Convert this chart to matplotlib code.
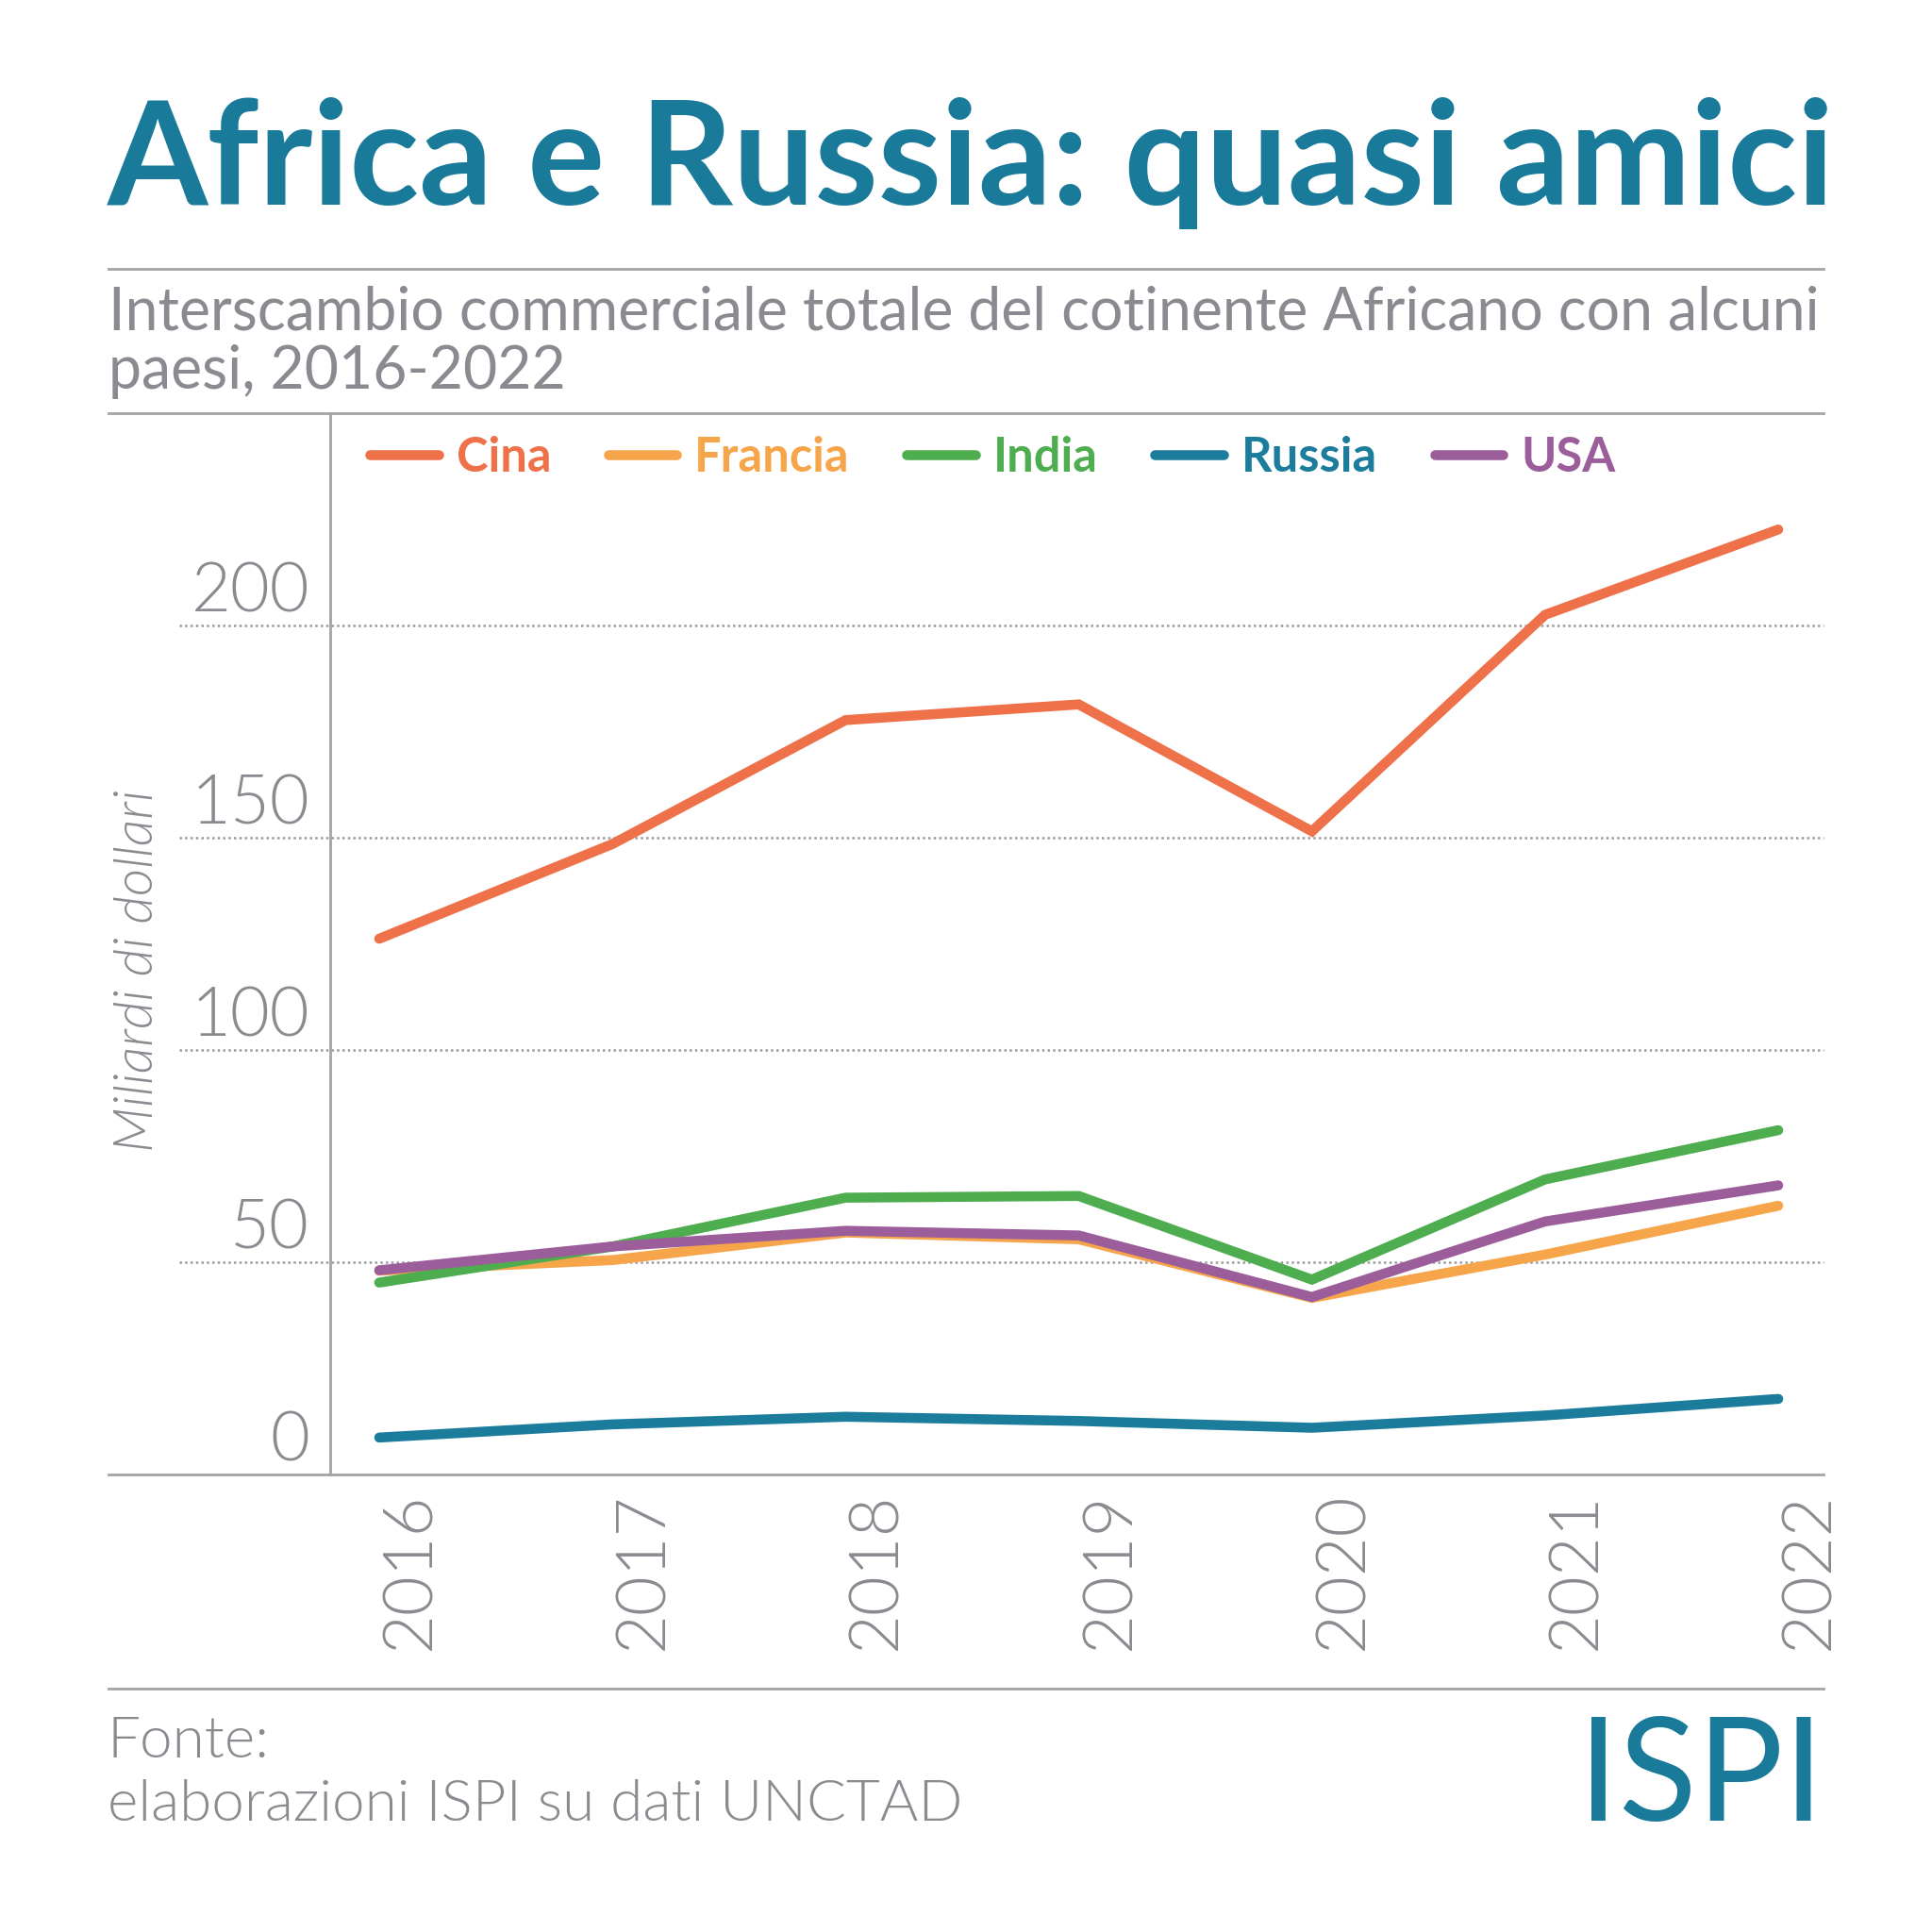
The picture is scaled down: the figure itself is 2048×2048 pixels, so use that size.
import matplotlib
matplotlib.use("Agg")
import matplotlib.pyplot as plt
from matplotlib.lines import Line2D
from matplotlib.transforms import blended_transform_factory, ScaledTranslation

# ---------------- data ----------------
years = [2016, 2017, 2018, 2019, 2020, 2021, 2022]
cina = [126.2, 148.5, 177.7, 181.4, 151.5, 202.5, 222.6]
francia = [48.0, 50.5, 57.0, 55.4, 41.6, 51.8, 63.3]
india = [45.2, 53.7, 65.2, 65.6, 45.9, 69.5, 81.1]
russia = [8.7, 11.8, 13.6, 12.6, 11.0, 13.9, 17.8]
usa = [48.1, 53.7, 57.4, 56.3, 41.8, 59.6, 68.1]
series_names = ["Cina", "Francia", "India", "Russia", "USA"]
yticks = [0, 50, 100, 150, 200]
ytick_labels = ["0", "50", "100", "150", "200"]

title = "Africa e Russia: quasi amici"
subtitle1 = "Interscambio commerciale totale del cotinente Africano con alcuni"
subtitle2 = "paesi, 2016-2022"
ylabel = "Miliardi di dollari"
source1 = "Fonte:"
source2 = "elaborazioni ISPI su dati UNCTAD"
logo = "ISPI"

# ---------------- style ----------------
colors = ["#EE7149", "#F6A54B", "#4DAD4F", "#1B7C9C", "#9B5E9B"]
teal = "#1A7A9A"
gray_txt = "#8A8A90"
rule_col = "#A4A4A8"
grid_col = "#9A9A9E"
FONT = "Lato"
LIGHT = 300

W = H = 2048
fig = plt.figure(figsize=(10.24, 10.24), dpi=200)
fig.patch.set_facecolor("white")


def fx(px):
    return px / W


def fy(py):
    return 1 - py / H


ax = fig.add_axes([fx(350), fy(1563), fx(1933) - fx(350), (1563 - 438) / H])
ax.patch.set_visible(False)
ax.set_xlim(2016 - 52 / 247.2, 2022 + 48 / 247.2)
ax.set_ylim(0, 250)

all_series = [cina, francia, india, russia, usa]
for name, vals, c in zip(series_names, all_series, colors):
    ax.plot(years, vals, color=c, lw=3.8, solid_capstyle="round",
            solid_joinstyle="miter", label=name, zorder=3)

# spines
for s in ["top", "right", "bottom"]:
    ax.spines[s].set_visible(False)
ax.spines["left"].set_color(rule_col)
ax.spines["left"].set_linewidth(1.0)

# gridlines extending left of the spine
bt = blended_transform_factory(fig.transFigure, ax.transData)
for v in yticks[1:]:
    fig.add_artist(Line2D([fx(190), fx(1933)], [v, v], transform=bt,
                          ls=(0, (1, 1.3)), lw=0.9, color=grid_col, zorder=-1))

# horizontal rules
for py in [285, 438, 1563, 1790]:
    fig.add_artist(Line2D([fx(115), fx(1933)], [fy(py), fy(py)],
                          transform=fig.transFigure, lw=1.0, color=rule_col,
                          zorder=1))

# y ticks
ax.set_yticks(yticks)
ax.set_yticklabels(ytick_labels, fontfamily=FONT, fontweight=LIGHT,
                   fontsize=26, color=gray_txt)
ax.tick_params(axis="y", length=0, pad=7.9)
for lab in ax.get_yticklabels():
    lab.set_va("bottom")
    lab.set_transform(lab.get_transform() +
                      ScaledTranslation(0, 0.5 / 72, fig.dpi_scale_trans))

# x ticks
ax.set_xticks(years)
ax.set_xticklabels([str(y) for y in years], fontfamily=FONT,
                   fontweight=LIGHT, fontsize=26, color=gray_txt,
                   rotation=90, ha="left", va="top")
ax.tick_params(axis="x", length=0, pad=6.5)

# y label
fig.text(fx(146), fy(1029), ylabel, rotation=90, ha="center", va="center",
         fontfamily=FONT, fontstyle="italic", fontweight=LIGHT,
         fontsize=20.5, color=gray_txt)

# legend
leg = ax.legend(loc="center left", bbox_to_anchor=(fx(392), fy(485)),
                bbox_transform=fig.transFigure, ncol=5, frameon=False,
                prop=dict(family=FONT, weight="bold", size=18.2),
                handlelength=1.44, handletextpad=0.37, columnspacing=1.2,
                borderpad=0, borderaxespad=0, labelcolor="linecolor")

# texts
t_title = fig.text(fx(114), fy(217), title, ha="left", va="baseline",
                   fontfamily=FONT, fontweight="bold", fontsize=54,
                   color=teal)
t_sub1 = fig.text(fx(115), fy(350), subtitle1, ha="left", va="baseline",
                  fontfamily=FONT, fontweight="regular", fontsize=20,
                  color=gray_txt)
t_sub2 = fig.text(fx(115), fy(412), subtitle2, ha="left", va="baseline",
                  fontfamily=FONT, fontweight="regular", fontsize=20,
                  color=gray_txt)
t_src1 = fig.text(fx(114), fy(1863), source1, ha="left", va="baseline",
                  fontfamily=FONT, fontweight=LIGHT, fontsize=22,
                  color=gray_txt)
t_src2 = fig.text(fx(114), fy(1930), source2, ha="left", va="baseline",
                  fontfamily=FONT, fontweight=LIGHT, fontsize=22,
                  color=gray_txt)
t_logo = fig.text(fx(1933), fy(1930), logo, ha="right", va="baseline",
                  fontfamily=FONT, fontweight="regular", fontsize=55,
                  color=teal)

renderer = fig.canvas.get_renderer()


def fit(t, target_px, others=()):
    bb = t.get_window_extent(renderer)
    fs = t.get_fontsize() * target_px / bb.width
    t.set_fontsize(fs)
    for o in others:
        o.set_fontsize(fs)


fit(t_title, 1832)
fit(t_sub1, 1813, [t_sub2])
fit(t_src2, 907, [t_src1])

fig.savefig("out.png", dpi=200, facecolor="white")
